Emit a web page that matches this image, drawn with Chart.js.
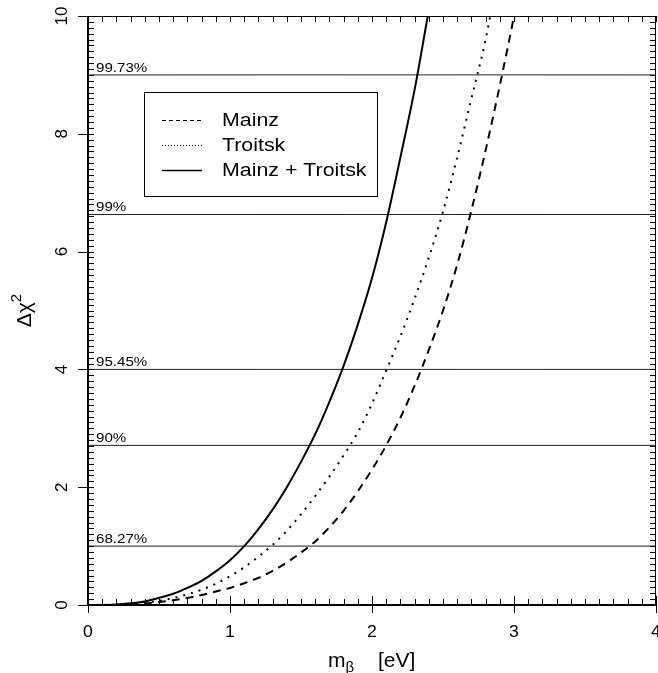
<!DOCTYPE html>
<html>
<head>
<meta charset="utf-8">
<script src="https://cdn.jsdelivr.net/npm/chart.js@4"></script>
<style>
    html, body { margin: 0; padding: 0; background: #fff; }
</style>
</head>
<body>
<canvas id="myChart" width="658" height="673"></canvas>
<script>
// m_beta grid in eV, shared by all three curves
const mass = [0, 0.1, 0.2, 0.3, 0.4, 0.5, 0.6, 0.7, 0.8, 0.9, 1.0, 1.1, 1.2, 1.3, 1.4, 1.5,
              1.6, 1.7, 1.8, 1.9, 2.0, 2.1, 2.2, 2.3, 2.4, 2.5, 2.6, 2.7, 2.8, 2.9, 3.0, 3.1];

// delta chi^2 profiles
const mainz = [0, 0.0005, 0.003, 0.01, 0.025, 0.05, 0.08, 0.12, 0.17, 0.23, 0.29, 0.37, 0.46, 0.58, 0.72, 0.89,
               1.08, 1.32, 1.6, 1.93, 2.3, 2.71, 3.18, 3.72, 4.33, 5.0, 5.78, 6.7, 7.72, 8.82, 10.0, 11.3];
const troitsk = [0, 0.001, 0.006, 0.018, 0.04, 0.07, 0.12, 0.18, 0.26, 0.36, 0.49, 0.64, 0.82, 1.02, 1.26, 1.54,
                 1.85, 2.18, 2.54, 2.93, 3.42, 3.98, 4.56, 5.2, 5.9, 6.68, 7.6, 8.6, 9.6, 10.9];
const combined = [0, 0.002, 0.01, 0.03, 0.06, 0.12, 0.19, 0.29, 0.41, 0.57, 0.76, 1.0, 1.29, 1.62, 2.0, 2.43,
                  2.9, 3.45, 4.06, 4.76, 5.55, 6.5, 7.6, 8.75, 10.1];

// confidence levels
const levels = [1, 2.71, 4, 6.63, 9];
const levelLabels = ['68.27%', '90%', '95.45%', '99%', '99.73%'];

const seriesNames = ['Mainz', 'Troitsk', 'Mainz + Troitsk'];
const xTicks = [0, 1, 2, 3, 4];
const yTicks = [0, 2, 4, 6, 8, 10];

const FONT = '"Liberation Sans", Arial, sans-serif';

const toPoints = (values) => values.map((v, i) => ({ x: mass[i], y: v }));

// horizontally stretched text, the old plot had wide glyphs
const drawText = (ctx, str, x, y, size, k, align) => {
    ctx.save();
    ctx.translate(x, y);
    ctx.scale(k, 1);
    ctx.font = size + 'px ' + FONT;
    ctx.textAlign = align;
    ctx.textBaseline = 'alphabetic';
    ctx.fillText(str, 0, 0);
    ctx.restore();
};

const dashes = [[8, 6], [2, 6], []];
const legendDashes = [[4, 3], [1, 2], []];

const frame = {
    id: 'frame',
    afterDatasetsDraw(chart) {
        const ctx = chart.ctx;
        const area = chart.chartArea;
        const xs = chart.scales.x;
        const ys = chart.scales.y;

        ctx.save();
        ctx.strokeStyle = '#000';
        ctx.fillStyle = '#000';

        // box
        ctx.lineWidth = 1;
        ctx.strokeRect(area.left + 0.5, area.top + 0.5, area.right - area.left - 1, area.bottom - area.top - 1);
        ctx.lineWidth = 2;
        ctx.beginPath();
        ctx.moveTo(area.left, area.bottom);
        ctx.lineTo(area.right, area.bottom);
        ctx.moveTo(area.left, area.top);
        ctx.lineTo(area.left, area.bottom);
        ctx.stroke();

        // ticks
        ctx.lineWidth = 1;
        ctx.beginPath();
        for (let i = 0; i <= 40; i++) {
            const px = Math.round(xs.getPixelForValue(i / 10)) + 0.5;
            const major = i % 10 === 0;
            ctx.moveTo(px, area.bottom - (major ? 9 : 6));
            ctx.lineTo(px, area.bottom + (major ? 8 : 0));
            ctx.moveTo(px, area.top);
            ctx.lineTo(px, area.top + 6);
        }
        for (let i = 0; i <= 100; i++) {
            const py = Math.round(ys.getPixelForValue(i / 10)) + 0.5;
            const major = i % 20 === 0;
            ctx.moveTo(area.left - (major ? 10 : 0), py);
            ctx.lineTo(area.left + 6, py);
            ctx.moveTo(area.right - 6, py);
            ctx.lineTo(area.right, py);
        }
        ctx.stroke();

        // tick labels
        xTicks.forEach(v => drawText(ctx, String(v), xs.getPixelForValue(v), area.bottom + 32, 16, 1.1, 'center'));
        yTicks.forEach(v => {
            ctx.save();
            ctx.translate(area.left - 21, ys.getPixelForValue(v));
            ctx.rotate(-Math.PI / 2);
            ctx.font = '17px ' + FONT;
            ctx.textAlign = 'center';
            ctx.fillText(String(v), 0, 0);
            ctx.restore();
        });

        // level labels
        levels.forEach((lv, i) => drawText(ctx, levelLabels[i], area.left + 8, ys.getPixelForValue(lv) - 3, 13.5, 1.12, 'left'));

        // x title
        const midX = 328;
        ctx.font = '21px ' + FONT;
        ctx.textAlign = 'left';
        ctx.fillText('m', midX, 667);
        const mW = ctx.measureText('m').width;
        ctx.font = '15px ' + FONT;
        ctx.fillText('\u03b2', midX + mW, 672);
        ctx.font = '21px ' + FONT;
        ctx.fillText('[eV]', 378, 667);

        // y title
        ctx.save();
        ctx.translate(31, (area.top + area.bottom) / 2);
        ctx.rotate(-Math.PI / 2);
        ctx.font = '21px ' + FONT;
        const base = '\u0394\u03c7';
        const bw = ctx.measureText(base).width;
        ctx.font = '15px ' + FONT;
        const sw = ctx.measureText('2').width;
        const start = -(bw + sw) / 2;
        ctx.font = '21px ' + FONT;
        ctx.textAlign = 'left';
        ctx.fillText(base, start, 0);
        ctx.font = '15px ' + FONT;
        ctx.fillText('2', start + bw, -10);
        ctx.restore();

        // legend
        ctx.lineWidth = 1;
        ctx.strokeRect(144.5, 92.5, 233, 104);
        seriesNames.forEach((name, i) => {
            const y = 120 + i * 25;
            ctx.beginPath();
            ctx.setLineDash(legendDashes[i]);
            ctx.lineWidth = i === 2 ? 1.5 : 1;
            ctx.moveTo(162, y + 0.5);
            ctx.lineTo(202, y + 0.5);
            ctx.stroke();
            ctx.setLineDash([]);
            drawText(ctx, name, 222, y + 6, 17.5, 1.22, 'left');
        });

        ctx.restore();
    }
};

const levelSets = levels.map(lv => ({
    data: [{ x: 0, y: lv }, { x: 4, y: lv }],
    borderColor: '#222',
    borderWidth: 1,
    pointRadius: 0,
    order: 5
}));

const curveSets = [mainz, troitsk, combined].map((vals, i) => ({
    label: seriesNames[i],
    data: toPoints(vals),
    borderColor: '#000',
    borderWidth: 2,
    borderDash: dashes[i],
    pointRadius: 0,
    cubicInterpolationMode: 'monotone',
    order: 1
}));

let ctx = document.getElementById('myChart').getContext('2d');
let myChart = new Chart(ctx, {
    type: 'line',
    data: { datasets: curveSets.concat(levelSets) },
    options: {
        responsive: false,
        animation: false,
        devicePixelRatio: 1,
        layout: { padding: { left: 88, right: 2, top: 16, bottom: 68 } },
        scales: {
            x: { type: 'linear', min: 0, max: 4, display: false },
            y: { type: 'linear', min: 0, max: 10, display: false }
        },
        plugins: {
            legend: { display: false },
            tooltip: { enabled: false }
        }
    },
    plugins: [frame]
});
</script>
</body>
</html>
